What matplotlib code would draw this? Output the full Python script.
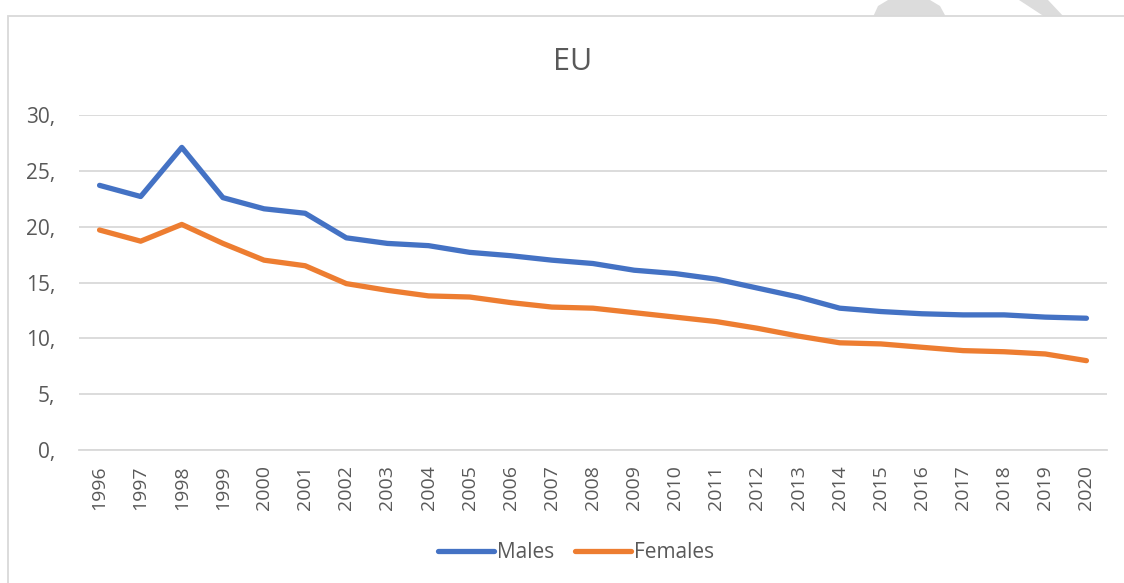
import matplotlib
matplotlib.use("Agg")
import matplotlib.pyplot as plt
from matplotlib.patches import Rectangle, Polygon

years = [str(y) for y in range(1996, 2021)]
males = [23.7, 22.7, 27.1, 22.6, 21.6, 21.2, 19.0, 18.5, 18.3, 17.7, 17.4, 17.0, 16.7,
         16.1, 15.8, 15.3, 14.5, 13.7, 12.7, 12.4, 12.2, 12.1, 12.1, 11.9, 11.8]
females = [19.7, 18.7, 20.2, 18.5, 17.0, 16.5, 14.9, 14.3, 13.8, 13.7, 13.2, 12.8, 12.7,
           12.3, 11.9, 11.5, 10.9, 10.2, 9.6, 9.5, 9.2, 8.9, 8.8, 8.6, 8.0]
yticks = [0, 5, 10, 15, 20, 25, 30]
ytick_labels = ["0,", "5,", "10,", "15,", "20,", "25,", "30,"]
title = "EU"

plt.rcParams['font.family'] = ['Open Sans', 'DejaVu Sans']
txt = "#595959"
W, H = 1124, 583

fig = plt.figure(figsize=(W / 100, H / 100), dpi=100)
fig.patch.set_facecolor("white")

def px(pts):
    return [(x / W, 1 - y / H) for x, y in pts]

# faint watermark visible above the chart frame
wm = "#DCDCDC"
fig.patches.append(Polygon(px([(873, 17), (878, 6), (888, 0), (930, 0), (940, 6), (946, 17)]),
                           closed=True, transform=fig.transFigure, facecolor=wm, edgecolor="none", zorder=-3))
fig.patches.append(Polygon(px([(1019, 0), (1048, 0), (1064, 17), (1045, 17)]),
                           closed=True, transform=fig.transFigure, facecolor=wm, edgecolor="none", zorder=-3))
# chart frame
fig.patches.append(Rectangle((8 / W, -0.1), 1.2, 1 - 16 / H + 0.1, transform=fig.transFigure,
                             facecolor="white", edgecolor="#D9D9D9", linewidth=1.3, zorder=-2))

ax = fig.add_axes([79 / W, 133 / H, 1028 / W, 335 / H])
ax.set_facecolor("none")
x = list(range(len(years)))
ax.plot(x, males, color="#4472C4", linewidth=3.8, solid_capstyle="round", solid_joinstyle="round", label="Males")
ax.plot(x, females, color="#ED7D31", linewidth=3.8, solid_capstyle="round", solid_joinstyle="round", label="Females")

ax.set_xlim(-0.5, len(years) - 0.5)
ax.set_ylim(0, 30)
ax.set_yticks(yticks)
ax.set_yticklabels(ytick_labels, fontsize=15, color=txt)
ax.set_xticks(x)
ax.set_xticklabels(years, rotation=90, fontsize=14, color=txt)
ax.tick_params(axis="y", length=0, pad=17)
ax.tick_params(axis="x", length=0, pad=11)
ax.grid(axis="y", color="#D9D9D9", linewidth=1.3)
ax.set_axisbelow(True)
for s in ["top", "right", "left"]:
    ax.spines[s].set_visible(False)
ax.spines["bottom"].set_color("#D9D9D9")
ax.spines["bottom"].set_linewidth(1.3)

fig.text(573 / W, 1 - 62 / H, title, ha="center", va="center", fontsize=22, color=txt)

leg = fig.legend(loc="center", bbox_to_anchor=(576 / W, 1 - 553 / H), ncol=2, frameon=False,
                 fontsize=15, handlelength=2.7, handletextpad=0.15, columnspacing=1.0)
for t in leg.get_texts():
    t.set_color(txt)

fig.savefig("out.png", dpi=100, facecolor="white")
